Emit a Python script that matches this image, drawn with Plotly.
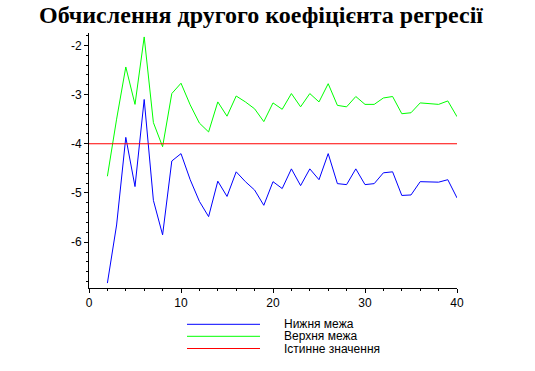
import plotly.graph_objects as go

x_vals = list(range(2, 41))
lower = [-6.83, -5.65, -3.87, -4.87, -3.10, -5.15, -5.85, -4.35, -4.20, -4.73,
         -5.17, -5.48, -4.76, -5.07, -4.57, -4.77, -4.94, -5.25, -4.77, -4.91,
         -4.51, -4.85, -4.51, -4.73, -4.20, -4.81, -4.83, -4.51, -4.83, -4.81,
         -4.59, -4.57, -5.05, -5.04, -4.77, -4.77, -4.78, -4.73, -5.10]
upper = [-4.66, -3.50, -2.44, -3.20, -1.83, -3.57, -4.06, -2.98, -2.77, -3.21,
         -3.58, -3.76, -3.15, -3.44, -3.03, -3.15, -3.29, -3.55, -3.17, -3.30,
         -2.98, -3.25, -2.98, -3.15, -2.78, -3.22, -3.25, -3.04, -3.20, -3.20,
         -3.07, -3.04, -3.39, -3.37, -3.17, -3.18, -3.20, -3.13, -3.45]
true_x = [0, 40]
true_y = [-4, -4]

x_tickvals = [0, 10, 20, 30, 40]
x_ticktext = ["0", "10", "20", "30", "40"]
y_tickvals = [-6, -5, -4, -3, -2]
y_ticktext = ["-6", "-5", "-4", "-3", "-2"]

names = ["Нижня межа", "Верхня межа", "Істинне значення"]
colors = ["#0000ff", "#00ff00", "#ff0000"]
title_text = "Обчислення другого коефіцієнта регресії"

W, H = 535, 371
L, T = 89, 33
pw, ph = 368, 255
R, B = W - L - pw, H - T - ph

fig = go.Figure()
fig.add_trace(go.Scatter(x=x_vals, y=lower, mode="lines", name=names[0],
                         line=dict(color=colors[0], width=1)))
fig.add_trace(go.Scatter(x=x_vals, y=upper, mode="lines", name=names[1],
                         line=dict(color=colors[1], width=1)))
fig.add_trace(go.Scatter(x=true_x, y=true_y, mode="lines", name=names[2],
                         line=dict(color=colors[2], width=1)))

tick_font = dict(family="Liberation Sans, Arial, sans-serif", size=12, color="black")

fig.update_layout(
    width=W, height=H,
    margin=dict(l=L, r=R, t=T, b=B, pad=0),
    paper_bgcolor="white", plot_bgcolor="white",
    showlegend=False,
    title=dict(text=title_text, x=261 / W, xanchor="center", xref="container",
               y=1 - 15 / H, yanchor="middle", yref="container",
               font=dict(family="Liberation Serif, Times New Roman, serif", size=24,
                         color="black", weight="bold")),
    xaxis=dict(range=[0, 40], showgrid=False, zeroline=False, showline=True,
               linecolor="black", linewidth=1, ticks="outside", ticklen=4,
               tickcolor="black", tickwidth=1, tickvals=x_tickvals, ticktext=x_ticktext,
               tickfont=tick_font,
               minor=dict(dtick=2, tick0=0, ticks="outside", ticklen=2, tickcolor="black"),
               fixedrange=True),
    yaxis=dict(range=[-6.93, -1.75], showgrid=False, zeroline=False, showline=True,
               linecolor="black", linewidth=1, ticks="outside", ticklen=4,
               tickcolor="black", tickwidth=1, tickvals=y_tickvals, ticktext=y_ticktext,
               tickfont=tick_font,
               minor=dict(dtick=0.2, tick0=0, ticks="outside", ticklen=2, tickcolor="black"),
               fixedrange=True),
)

# legend drawn below the plot (positions in page pixels)
def px_to_paper_x(px):
    return (px - L) / pw

def py_to_paper_y(py):
    return (T + ph - py) / ph

rows_py = [324.3, 336.3, 348.5]
for name, col, py in zip(names, colors, rows_py):
    fig.add_shape(type="line", xref="paper", yref="paper",
                  x0=px_to_paper_x(187), x1=px_to_paper_x(260),
                  y0=py_to_paper_y(py), y1=py_to_paper_y(py),
                  line=dict(color=col, width=1))
    fig.add_annotation(text=name, xref="paper", yref="paper",
                       x=px_to_paper_x(282), y=py_to_paper_y(py),
                       xanchor="left", yanchor="middle", showarrow=False,
                       font=dict(family="Liberation Sans, Arial, sans-serif", size=12,
                                 color="black"))

fig.write_html("out.html", post_script="document.body.style.margin='0px';",
               config={"displayModeBar": False})
